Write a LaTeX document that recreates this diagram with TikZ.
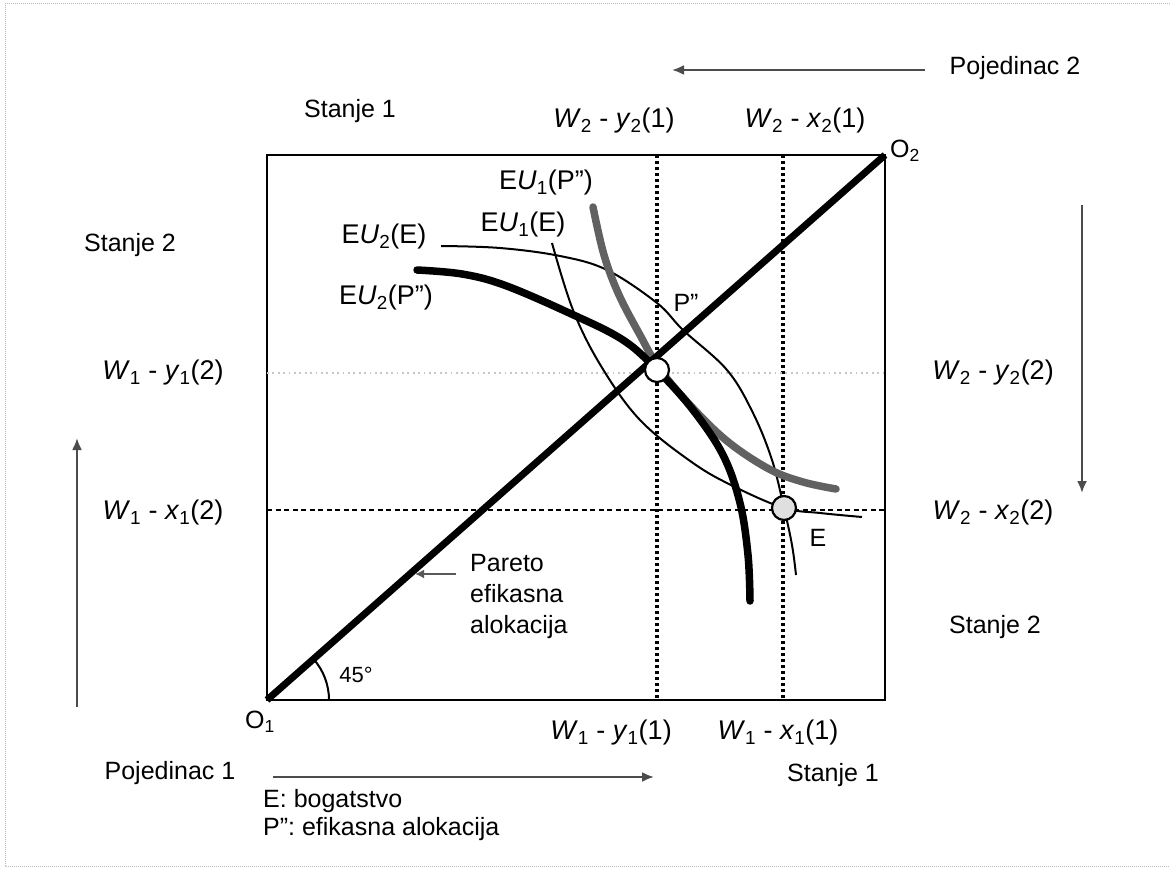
\documentclass[tikz,border=0pt]{standalone}
\usepackage{fontspec}
\setmainfont{Liberation Sans}
\usetikzlibrary{arrows.meta}
\newcommand{\lbl}[4]{\textit{#1}\textsubscript{#2} - \textit{#3}\textsubscript{#2}(#4)}
\newcommand{\eu}[2]{E\textit{U}\textsubscript{#1}(#2)}
\begin{document}
\frenchspacing
\begin{tikzpicture}[x=1pt,y=-1pt,
  every node/.style={font=\fontsize{25}{30}\selectfont, inner sep=0pt},
  mathlbl/.style={font=\fontsize{27}{30}\selectfont},
  frame/.style={line width=2.8pt},
  diag/.style={line width=7pt},
  vdot/.style={line width=3.2pt, dash pattern=on 3pt off 3pt},
  hlight/.style={line width=1.8pt, gray!45, dash pattern=on 1.8pt off 3.6pt},
  hdash/.style={line width=2.6pt, dash pattern=on 5pt off 3.5pt},
  thickblack/.style={line width=7.5pt, line cap=round},
  thickgray/.style={line width=7.5pt, black!62, line cap=round},
  thincurve/.style={line width=2pt},
  axarrow/.style={line width=2.2pt, black!70, -{Latex[length=12pt,width=10pt]}},
  dot/.style={circle, draw, line width=2.2pt, minimum size=24pt, inner sep=0pt},
]
\useasboundingbox (0,0) rectangle (1170,874);
\draw[gray!55, line width=1pt, dash pattern=on 1pt off 1pt] (1170,4) -- (5,4) -- (5,866) -- (1170,866);

% frame
\coordinate (O1) at (267,700);
\coordinate (O2) at (885,155);
\draw[frame] (267,155) rectangle (885,700);

% guide lines
\draw[vdot] (657,155) -- (657,700);
\draw[vdot] (783,155) -- (783,700);
\draw[hlight] (267,373) -- (885,373);
\draw[hdash] (267,510) -- (885,510);

% curves
\draw[thincurve] plot[smooth, tension=0.6] coordinates {(441,246) (500,248) (560,256) (607,270) (657,303) (683,330) (727,370) (753,413) (772,460) (784,508) (792,545) (796,575)};
\draw[thincurve] plot[smooth, tension=0.6] coordinates {(552,243) (573,310) (601,366) (640,420) (693,463) (735,487) (784,508) (820,513) (862,517)};
\draw[thickgray] plot[smooth, tension=0.6] coordinates {(593,207) (604,255) (619,295) (640,335) (659,368) (689,404) (727,441) (769,469) (803,482) (836,489)};
\draw[thickblack] plot[smooth, tension=0.6] coordinates {(417,270) (462,274) (504,285) (567,312) (623,340) (659,372) (693,410) (723,455) (740,503) (748,555) (750,601)};

% diagonal
\draw[diag] (O1) -- (O2);
\draw[line width=2pt] (329,700) arc[start angle=0, end angle=41.4, radius=62pt];
\node (deg) at (356,675) {\fontsize{22}{24}\selectfont 45°};

% points
\node[dot, fill=white] (P) at (657,370) {};
\node[dot, fill=gray!25] (E) at (784,508) {};
\node (Plbl) at (686,303) {P"};
\node (Elbl) at (818,538) {E};

% curve labels
\node[mathlbl] (eu1p) at (546,183) {\eu{1}{P"}};
\node[mathlbl] (eu1e) at (523,225) {\eu{1}{E}};
\node[mathlbl] (eu2e) at (384,237) {\eu{2}{E}};
\node[mathlbl] (eu2p) at (386,298) {\eu{2}{P"}};

% Pareto
\node[anchor=west, align=left, font=\fontsize{25}{31}\selectfont] (pareto) at (470,596) {Pareto\\efikasna\\alokacija};
\coordinate (pt) at (415,574);
\draw[line width=2pt, black!65, -{Latex[length=9pt,width=9pt]}] (456,574) -- (pt);

% corner labels
\node (o1) at (260,722) {O\textsubscript{1}};
\node (o2) at (905,151) {O\textsubscript{2}};

% axis labels
\node[mathlbl] (ty) at (614,121) {\lbl{W}{2}{y}{1}};
\node[mathlbl] (tx) at (805,121) {\lbl{W}{2}{x}{1}};
\node[mathlbl] (by) at (611,733) {\lbl{W}{1}{y}{1}};
\node[mathlbl] (bx) at (778,733) {\lbl{W}{1}{x}{1}};
\node[mathlbl] (ly) at (163,373) {\lbl{W}{1}{y}{2}};
\node[mathlbl] (lx) at (163,513) {\lbl{W}{1}{x}{2}};
\node[mathlbl] (ry) at (993,373) {\lbl{W}{2}{y}{2}};
\node[mathlbl] (rx) at (993,513) {\lbl{W}{2}{x}{2}};

% state and person labels
\node (s1t) at (350,111) {Stanje 1};
\node (s2l) at (130,245) {Stanje 2};
\node (s2r) at (995,627) {Stanje 2};
\node (s1b) at (833,775) {Stanje 1};
\node (p2) at (1015,68) {Pojedinac 2};
\node (p1) at (170,773) {Pojedinac 1};

% direction arrows
\coordinate (a2s) at (925,70); \coordinate (a2e) at (672,70);
\draw[axarrow] (a2s) -- (a2e);
\coordinate (a1s) at (273,777); \coordinate (a1e) at (654,777);
\draw[axarrow] (a1s) -- (a1e);
\coordinate (aus) at (77,707); \coordinate (aue) at (77,438);
\draw[axarrow] (aus) -- (aue);
\coordinate (ads) at (1082,205); \coordinate (ade) at (1082,493);
\draw[axarrow] (ads) -- (ade);

% legend
\node[anchor=west] (leg1) at (263,801) {E: bogatstvo};
\node[anchor=west] (leg2) at (263,829) {P": efikasna alokacija};
\end{tikzpicture}
\end{document}
